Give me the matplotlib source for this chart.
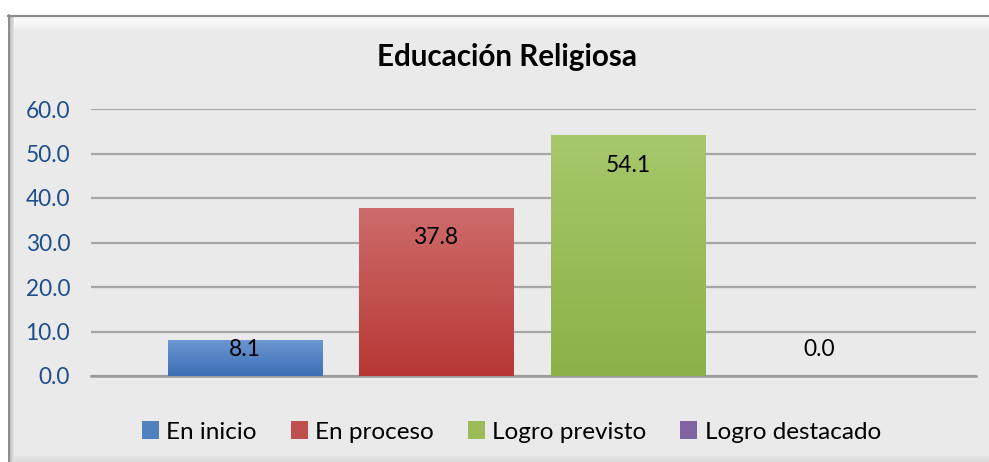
import numpy as np
import matplotlib
matplotlib.use("Agg")
import matplotlib.pyplot as plt
from matplotlib.patches import Rectangle, Patch
from matplotlib.colors import LinearSegmentedColormap

# ---------------- data ----------------
title = "Educación Religiosa"
categories = ["En inicio", "En proceso", "Logro previsto", "Logro destacado"]
values = [8.1, 37.8, 54.1, 0.0]
yticks = [0, 10, 20, 30, 40, 50, 60]

# ---------------- style ----------------
top_colors = ["#6C97D1", "#CD6C6B", "#A7C76B", "#9A82B8"]
bottom_colors = ["#3D70B6", "#B83835", "#8CB148", "#7A5C9E"]
legend_colors = ["#4F81BD", "#C0504D", "#9BBB59", "#8064A2"]
label_offsets_px = [-10, -30, -30, 26]
FONT = ["Lato", "DejaVu Sans"]

W, H = 989, 462
fig = plt.figure(figsize=(W / 100, H / 100), dpi=100)
fig.patch.set_facecolor("white")

# background frame (pixel coords, origin top-left)
bg = fig.add_axes([0, 0, 1, 1], zorder=0)
bg.set_xlim(0, W)
bg.set_ylim(H, 0)
bg.axis("off")
bg.add_patch(Rectangle((8, 15), W, H, facecolor="#EAEAEA", edgecolor="none"))
# top bevel
tcm = LinearSegmentedColormap.from_list("t", ["#FCFCFC", "#F6F6F6", "#EAEAEA"])
bg.imshow(np.linspace(0, 1, 50).reshape(-1, 1), cmap=tcm, extent=[10, W, 32, 17],
          aspect="auto", interpolation="bilinear", zorder=1)
# left bevel
lcm = LinearSegmentedColormap.from_list("l", ["#9A9A9A", "#C8C8C8", "#E2E2E2"])
bg.imshow(np.linspace(0, 1, 50).reshape(1, -1), cmap=lcm, extent=[8, 14, H, 16],
          aspect="auto", interpolation="bilinear", zorder=2)
# bottom bevel
bcm = LinearSegmentedColormap.from_list("b", ["#E6E6E6", "#DADADA"])
bg.imshow(np.linspace(0, 1, 20).reshape(-1, 1), cmap=bcm, extent=[14, W, H, 456],
          aspect="auto", interpolation="bilinear", zorder=1)
# outer border lines
bg.plot([8, W], [15.5, 15.5], color="#8A8A8A", lw=1.6, zorder=3)
bg.plot([8.5, 8.5], [15, H], color="#8A8A8A", lw=1.2, zorder=3)
bg.set_xlim(0, W)
bg.set_ylim(H, 0)

# title
fig.text(507 / W, 1 - 57 / H, title, ha="center", va="center",
         fontsize=21.3, fontweight="bold", family=FONT, color="black")

# main axes
ax = fig.add_axes([91 / W, 86 / H, (976 - 91) / W, (376 - 109) / H], zorder=1)
ax.set_facecolor("none")
x = np.arange(len(categories))
bw = 154.5 / 191.5
bars = ax.bar(x, values, width=bw, color=legend_colors, zorder=3, linewidth=0)

for i, (b, v) in enumerate(zip(bars, values)):
    if v > 0:
        cm = LinearSegmentedColormap.from_list("g%d" % i, [top_colors[i], bottom_colors[i]])
        im = ax.imshow(np.linspace(0, 1, 100).reshape(-1, 1), cmap=cm,
                       extent=[x[i] - bw / 2, x[i] + bw / 2, 0, v],
                       aspect="auto", interpolation="bilinear", zorder=3.5)
        im.set_clip_path(b)
    ax.annotate(f"{v:.1f}", xy=(x[i], v), xytext=(0, label_offsets_px[i] * 0.72),
                textcoords="offset points", ha="center", va="center",
                fontsize=16.4, family=FONT, color="black", zorder=5)

ax.set_xlim(-0.804, 3.817)
ax.set_ylim(0, 60)
ax.set_yticks(yticks)
ax.set_yticklabels([f"{t:.1f}" for t in yticks], family=FONT, fontsize=16.3, color="#1F4E8C")
ax.tick_params(axis="y", length=0, pad=15)
ax.set_xticks([])
ax.grid(axis="y", color="#A6A6A6", lw=1.6, zorder=1)
ax.set_axisbelow(True)
for s in ["top", "right", "left"]:
    ax.spines[s].set_visible(False)
ax.spines["bottom"].set_color("#9A9A9A")
ax.spines["bottom"].set_linewidth(1.8)
ax.spines["bottom"].set_zorder(2)

handles = [Patch(facecolor=c, edgecolor="none") for c in legend_colors]
leg = fig.legend(handles, categories, loc="center", bbox_to_anchor=(511.5 / W, 1 - 432 / H),
                 ncol=4, frameon=False, prop={"family": FONT, "size": 17.5},
                 handlelength=0.7, handleheight=0.7, handletextpad=0.3, columnspacing=1.4)

fig.savefig("out.png", dpi=100)
